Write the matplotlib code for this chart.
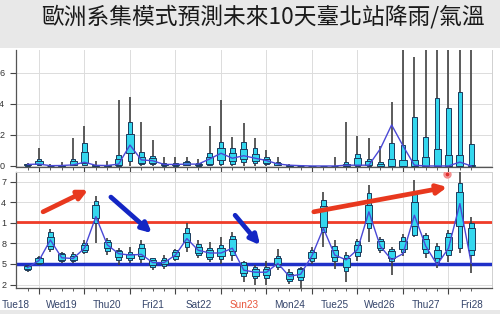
"""
ECMWF ensemble 10-day forecast for Taipei station: rainfall (top) and
temperature (bottom) box plots every 6 hours.
"""

import matplotlib
matplotlib.use("Agg")
import matplotlib.pyplot as plt
from matplotlib.patches import Rectangle

plt.rcParams["font.family"] = ["Liberation Sans", "DejaVu Sans"]

TITLE = "歐洲系集模式預測未來10天臺北站降雨/氣溫"

# forecast steps in days from Wed19 00h (6-hourly)
steps = [i * 0.25 - 0.25 for i in range(40)]

day_labels = ["Tue18", "Wed19", "Thu20", "Fri21", "Sat22", "Sun23",
              "Mon24", "Tue25", "Wed26", "Thu27", "Fri28"]
day_label_pos = [d + 0.5 for d in range(-1, 10)]

# y tick labels as they show in the (left-cropped) screenshot
rain_ticks = [0, 2, 4, 6]
rain_tick_labels = ["0", "2", "4", "6"]
temp_ticks = [12, 15, 18, 21, 24, 27]
temp_tick_labels = ["2", "5", "8", "1", "4", "7"]

# precipitation (mm / 6h)
rain_q10 = [0.02, 0.03, 0, 0, 0.03, 0.06, 0, 0, 0.02, 0.3,
            0.1, 0.12, 0.02, 0.02, 0.03, 0.02, 0.05, 0.15, 0.12, 0.25,
            0.2, 0.12, 0.04, 0, 0, 0, 0, 0, 0, 0,
            0, 0, 0, 0, 0, 0, 0, 0, 0, 0]
rain_q25 = [0.05, 0.1, 0, 0, 0.08, 0.17, 0.01, 0, 0.08, 0.85,
            0.2, 0.2, 0.05, 0.05, 0.06, 0.04, 0.12, 0.4, 0.3, 0.45,
            0.35, 0.2, 0.08, 0.01, 0, 0, 0, 0, 0, 0.05,
            0.03, 0, 0, 0, 0, 0, 0, 0, 0, 0]
rain_q75 = [0.12, 0.3, 0.02, 0.03, 0.3, 0.92, 0.05, 0.04, 0.45, 2.05,
            0.6, 0.5, 0.15, 0.15, 0.25, 0.15, 0.55, 1.15, 0.85, 1.1,
            0.8, 0.45, 0.2, 0.05, 0.02, 0, 0, 0, 0.1, 0.5,
            0.3, 0.1, 0.45, 0.4, 0.4, 0.6, 1.1, 0.7, 0.7, 0.05]
rain_q90 = [0.15, 0.45, 0.05, 0.06, 0.45, 1.46, 0.08, 0.07, 0.71, 2.85,
            0.88, 0.66, 0.2, 0.2, 0.35, 0.2, 0.82, 1.57, 1.14, 1.53,
            1.14, 0.6, 0.28, 0.07, 0.04, 0, 0, 0.02, 0.28, 0.77,
            0.45, 0.28, 1.46, 1.35, 3.18, 1.85, 4.37, 3.72, 4.8, 1.42]
rain_max = [0.2, 1.14, 0.1, 0.28, 1.78, 2.58, 0.32, 0.32, 4.26, 4.47,
            2.86, 1.68, 0.6, 0.6, 0.55, 0.47, 2.6, 4.26, 1.89, 2.75,
            1.78, 1.03, 0.6, 0.15, 0.08, 0.02, 0.02, 0.6, 2.86, 1.94,
            1.78, 1.29, 4.15, 9.0, 7.0, 9.0, 9.0, 9.0, 9.0, 9.0]
rain_line = [0.1, 0.12, 0.02, 0.03, 0.07, 0.24, 0.04, 0.03, 0.12, 1.35,
             0.39, 0.34, 0.1, 0.1, 0.12, 0.12, 0.45, 0.82, 0.5, 0.66,
             0.5, 0.35, 0.13, 0.05, 0.02, 0, 0, 0, 0.05, 0.05,
             0.05, 1.1, 2.65, 1.3, 0.05, 0, 0, 0, 0.25, 0]

# 2 m temperature (deg C)
temp_min = [13.9, 14.9, 16.8, 15.2, 15.2, 16.4, 18.0, 16.3, 14.8, 15.2,
            15.1, 14.1, 14.3, 15.4, 16.8, 15.8, 15.3, 15.05, 15.5, 12.4,
            11.9, 11.9, 14.1, 12.1, 11.4, 15.05, 17.5, 14.3, 12.4, 15.5,
            18.25, 16.55, 13.4, 16.2, 19.0, 15.8, 14.4, 15.3, 16.55, 13.65]
temp_q10 = [14.1, 15.0, 17.2, 15.4, 15.4, 16.7, 21.0, 16.9, 15.6, 15.6,
            15.7, 14.6, 14.7, 15.7, 17.5, 16.3, 15.7, 15.7, 16.3, 13.2,
            12.9, 12.9, 14.6, 12.5, 12.6, 15.4, 19.6, 15.5, 14.0, 16.2,
            20.2, 17.0, 15.4, 16.8, 19.2, 16.6, 15.3, 16.3, 17.3, 16.3]
temp_q25 = [14.3, 15.2, 17.6, 15.6, 15.6, 17.0, 21.7, 17.3, 16.0, 15.9,
            16.2, 14.9, 15.0, 16.1, 18.2, 16.6, 16.0, 16.2, 16.9, 13.7,
            13.3, 13.4, 15.0, 12.8, 13.1, 15.8, 20.4, 16.0, 14.6, 16.7,
            21.0, 17.4, 15.9, 17.2, 20.5, 17.2, 15.8, 17.0, 20.5, 17.0]
temp_q75 = [14.7, 15.8, 19.0, 16.4, 16.2, 17.8, 23.6, 18.2, 16.9, 16.5,
            17.4, 15.6, 15.6, 16.8, 19.5, 17.5, 17.0, 17.3, 18.6, 14.9,
            14.2, 14.2, 15.8, 13.6, 14.2, 16.8, 23.4, 17.1, 15.9, 17.8,
            23.6, 18.3, 16.9, 18.4, 24.0, 18.7, 17.0, 18.9, 25.5, 20.2]
temp_q90 = [14.8, 16.0, 19.7, 16.6, 16.4, 18.1, 24.2, 18.5, 17.1, 16.8,
            17.9, 15.8, 15.9, 17.0, 20.2, 17.9, 17.4, 17.8, 19.1, 15.3,
            14.5, 14.6, 16.2, 13.9, 14.4, 17.1, 24.3, 17.6, 16.3, 18.3,
            25.3, 18.7, 17.2, 18.9, 25.3, 19.2, 17.6, 19.5, 26.75, 20.9]
temp_max = [14.9, 16.2, 20.1, 16.8, 16.7, 18.5, 24.9, 18.8, 17.3, 17.5,
            18.45, 15.9, 16.3, 17.2, 20.9, 18.45, 18.2, 18.9, 19.65, 15.5,
            14.8, 15.5, 17.2, 14.3, 14.55, 17.5, 25.5, 18.45, 16.75, 18.7,
            26.5, 19.0, 17.5, 19.3, 27.2, 19.5, 18.0, 19.95, 28.4, 21.9]
temp_line = [14.5, 15.5, 18.5, 15.9, 15.8, 17.3, 21.9, 17.8, 16.5, 16.3,
             16.4, 15.2, 15.2, 16.3, 18.7, 17.0, 16.6, 16.6, 17.3, 14.1,
             13.8, 13.8, 15.1, 13.2, 13.5, 16.2, 20.2, 16.3, 15.6, 17.1,
             22.6, 17.6, 15.6, 16.5, 22.1, 17.6, 14.9, 17.3, 23.8, 15.1]

warm_ref = 21.1
cool_ref = 15.0

# hand-drawn trend arrows (start, end) in (day, deg C)
arrows = [
    ((0.09, 22.6), (1.08, 25.8), "#e8381e"),
    ((1.58, 24.75), (2.48, 19.5), "#1426c4"),
    ((4.31, 22.1), (4.86, 17.75), "#1426c4"),
    ((6.04, 22.6), (8.97, 26.2), "#e8381e"),
]
hot_spot = (8.97, 28.1)

CYAN = "#34d7ee"
EDGE = "#1d3a5c"
WHISKER = "#404040"
LINE = "#4a48d6"
XMIN, XMAX = -0.505, 9.956


def draw_boxes(ax, lo, q10, q25, q75, q90, hi, line):
    ax.vlines(steps, lo, hi, color=WHISKER, lw=1.2, zorder=3)
    ax.bar(steps, [b - a for a, b in zip(q10, q90)], bottom=q10, width=0.1,
           color=CYAN, edgecolor=EDGE, linewidth=0.7, zorder=4)
    ax.bar(steps, [b - a for a, b in zip(q25, q75)], bottom=q25, width=0.155,
           color=CYAN, edgecolor=EDGE, linewidth=0.7, zorder=5)
    ax.plot(steps, line, color=LINE, lw=1.0, zorder=6)


def style_axis(ax, label_pad):
    ax.set_xlim(XMIN, XMAX)
    ax.set_xticks(range(0, 10))
    ax.set_xticks(steps, minor=True)
    ax.set_xticklabels([])
    ax.tick_params(axis="x", which="major", length=4, width=0.8, color="#444")
    ax.tick_params(axis="x", which="minor", length=2.5, width=0.6, color="#444")
    ax.tick_params(axis="y", length=4, width=0.8, color="#444", pad=label_pad,
                   labelsize=6.5, labelcolor="#333")
    ax.grid(True, which="major", color="#dcdcdc", lw=0.7, zorder=0)
    ax.set_axisbelow(True)
    for side in ("left", "bottom"):
        ax.spines[side].set_color("#555")
        ax.spines[side].set_linewidth(0.9)
    for side in ("top", "right"):
        ax.spines[side].set_color("#d0d0d0")
        ax.spines[side].set_linewidth(0.7)


def main():
    fig = plt.figure(figsize=(5.0, 3.14), dpi=100, facecolor="#e8e8e8")
    fig.patches.append(Rectangle((0, 4 / 314), 1, 262 / 314, transform=fig.transFigure,
                                 facecolor="white", edgecolor="none", zorder=-5))
    fig.text(0.526, 0.946, TITLE, ha="center", va="center", fontsize=16.4,
             fontweight="medium", color="#1a1a1a",
             family=["Noto Sans CJK TC", "DejaVu Sans"])

    ax_rain = fig.add_axes([0.032, 0.468, 0.952, 0.3726])
    ax_temp = fig.add_axes([0.032, 0.0828, 0.952, 0.3694])
    ax_rain.set_zorder(2)
    ax_temp.set_zorder(2)

    # rainfall
    zeros = [0] * len(steps)
    draw_boxes(ax_rain, zeros, rain_q10, rain_q25, rain_q75, rain_q90, rain_max, rain_line)
    ax_rain.set_ylim(-0.07, 7.48)
    ax_rain.set_yticks(rain_ticks, rain_tick_labels)
    style_axis(ax_rain, label_pad=4.5)
    ax_rain.spines["top"].set_visible(False)

    # temperature
    ax_temp.axhline(warm_ref, color="#f03c28", lw=2.0, zorder=2)
    ax_temp.axhline(cool_ref, color="#1f30c8", lw=2.5, zorder=2)
    draw_boxes(ax_temp, temp_min, temp_q10, temp_q25, temp_q75, temp_q90, temp_max, temp_line)
    ax_temp.set_ylim(11.5, 28.4)
    ax_temp.set_yticks(temp_ticks, temp_tick_labels)
    style_axis(ax_temp, label_pad=3)

    for (x0, y0), (x1, y1), color in arrows:
        ax_temp.annotate("", xy=(x1, y1), xytext=(x0, y0), zorder=8,
                         arrowprops=dict(arrowstyle="-|>", color=color, lw=3.4,
                                         mutation_scale=14, shrinkA=0, shrinkB=0))
    ax_temp.plot(*hot_spot, marker="o", ms=5, color="#f6a3a3",
                 markeredgecolor="#f28a8a", zorder=8)
    ax_temp.plot(*hot_spot, marker="o", ms=1.8, color="#e03030", zorder=9)

    for pos, name in zip(day_label_pos, day_labels):
        color = "#e8553c" if name.startswith("Sun") else "#34446a"
        ax_temp.text(pos, -0.147, name, transform=ax_temp.get_xaxis_transform(),
                     ha="center", va="center", fontsize=7.2, color=color)

    fig.savefig("out.png", dpi=100, facecolor=fig.get_facecolor())
    plt.close(fig)


if __name__ == "__main__":
    main()
